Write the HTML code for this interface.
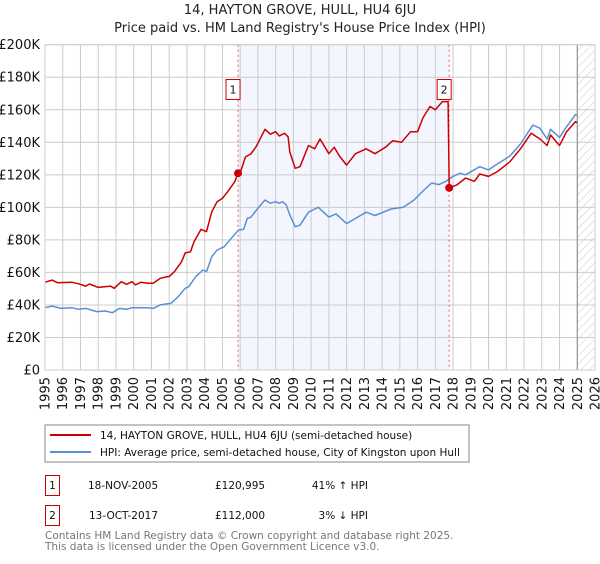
<!DOCTYPE html>
<html><head><meta charset="utf-8"><style>
body{margin:0;background:#fff;font-family:"DejaVu Sans","Liberation Sans",sans-serif;}
svg text{font-family:"DejaVu Sans","Liberation Sans",sans-serif;}
</style></head><body>
<svg id="chart" width="600" height="560" xmlns="http://www.w3.org/2000/svg">
<defs><pattern id="hatch" width="6" height="6" patternUnits="userSpaceOnUse" patternTransform="rotate(45)"><line x1="0" y1="0" x2="0" y2="6" stroke="#bbb" stroke-width="0.8"/></pattern></defs>
<text x="300" y="14" text-anchor="middle" font-size="13" fill="#222">14, HAYTON GROVE, HULL, HU4 6JU</text>
<text x="300" y="32" text-anchor="middle" font-size="13" fill="#222">Price paid vs. HM Land Registry's House Price Index (HPI)</text>
<g id="plot"></g>
<g>
<rect x="45" y="425" width="424" height="37" fill="#fff" stroke="#888"/>
<line x1="50" y1="435" x2="91" y2="435" stroke="#cc0000" stroke-width="2"/>
<text x="100" y="439" font-size="10.5" fill="#111">14, HAYTON GROVE, HULL, HU4 6JU (semi-detached house)</text>
<line x1="50" y1="452" x2="91" y2="452" stroke="#5b8fd4" stroke-width="2"/>
<text x="100" y="456" font-size="10.5" fill="#111">HPI: Average price, semi-detached house, City of Kingston upon Hull</text>
</g>
<g font-size="10.5" fill="#111">
<rect x="45.5" y="475.5" width="14" height="20" fill="#fff" stroke="#cc0000"/>
<text x="52.5" y="489" text-anchor="middle">1</text>
<text x="88" y="489">18-NOV-2005</text>
<text x="215" y="489">£120,995</text>
<text x="368" y="489" text-anchor="end">41% ↑ HPI</text>
<rect x="45.5" y="505.5" width="14" height="20" fill="#fff" stroke="#cc0000"/>
<text x="52.5" y="519" text-anchor="middle">2</text>
<text x="89" y="519">13-OCT-2017</text>
<text x="215" y="519">£112,000</text>
<text x="368" y="519" text-anchor="end">3% ↓ HPI</text>
</g>
<g font-size="10.5" fill="#777">
<text x="45" y="539">Contains HM Land Registry data © Crown copyright and database right 2025.</text>
<text x="45" y="550">This data is licensed under the Open Government Licence v3.0.</text>
</g>
</svg>
<script>
const yTicks=[0,20,40,60,80,100,120,140,160,180,200];
const yTickLabels=["£0","£20K","£40K","£60K","£80K","£100K","£120K","£140K","£160K","£180K","£200K"];
const xYears=[1995,1996,1997,1998,1999,2000,2001,2002,2003,2004,2005,2006,2007,2008,2009,2010,2011,2012,2013,2014,2015,2016,2017,2018,2019,2020,2021,2022,2023,2024,2025,2026];
const saleDates=[2005.88,2017.78];
const salePrices=[120.995,112];
const saleLabels=["1","2"];
const hpiT=[1995,1995.4,1995.9,1996.5,1996.9,1997.3,1997.9,1998.4,1998.8,1999.2,1999.6,1999.9,2000.8,2001.1,2001.5,2002.1,2002.5,2002.9,2003.1,2003.5,2003.9,2004.1,2004.4,2004.7,2005.1,2005.5,2005.9,2006.2,2006.4,2006.6,2007,2007.4,2007.7,2008,2008.2,2008.4,2008.6,2008.8,2009.1,2009.37,2009.85,2010.4,2011,2011.4,2012,2013.1,2013.6,2014.5,2015.2,2015.8,2016.3,2016.8,2017.2,2017.6,2017.99,2018.4,2018.7,2019.5,2020,2020.4,2021.2,2021.8,2022.5,2022.9,2023.3,2023.5,2024,2024.4,2024.9,2025];
const hpiV=[38.3,39.3,37.9,38.3,37.3,37.9,35.9,36.3,35.2,37.9,37.3,38.3,38.3,37.9,40,41,45,50.2,51.2,57.4,61.5,60.5,69.7,73.8,75.8,81,86,86.5,93.2,93.9,99.4,104.5,102.5,103.5,102.5,103.5,101.4,95.3,88.1,89,97,100,94,96,90,97,95,99,100,104.5,110,115,114,116,119,121,120,125,123,126,131.5,139,150.6,148.6,142,148,143,149.6,157,156.7];
const priceT=[1995,1995.4,1995.7,1996.5,1996.9,1997.3,1997.5,1998,1998.7,1998.9,1999.3,1999.6,1999.9,2000.1,2000.4,2000.8,2001.1,2001.5,2001.9,2002,2002.3,2002.7,2002.9,2003.2,2003.4,2003.8,2004.1,2004.4,2004.7,2005,2005.3,2005.7,2005.88,2006,2006.3,2006.6,2006.9,2007.4,2007.7,2008,2008.2,2008.5,2008.7,2008.8,2009.1,2009.37,2009.85,2010.2,2010.5,2011,2011.3,2011.6,2012,2012.5,2013.1,2013.6,2014.2,2014.6,2015.1,2015.6,2016,2016.3,2016.7,2017,2017.4,2017.72,2017.78,2018.2,2018.7,2019.2,2019.5,2020,2020.5,2021.2,2021.8,2022.4,2022.9,2023.3,2023.5,2024,2024.4,2024.9,2025];
const priceV=[54,55.3,53.7,54,53,51.6,52.9,50.8,51.6,50.2,54.3,52.7,54.3,52.3,53.9,53.3,53.3,56.4,57.4,57.4,60.5,66.6,72,72.7,78.9,86.5,85,97.3,103.5,105.5,109.6,115.8,120.995,121.3,131,132.8,137.3,148,145,146.5,143.9,145.5,143.4,134,124,125,138,136,142,133,137,131.5,126,133,136,133,137,141,140,146.5,146.5,155,162,160,165,165,112,113.7,118,116,120.5,119,122,128,136,145.5,142,138,144.5,138,146.5,152.7,152];
const X0=45,X1=595,Y0=370,Y1=44.7;
const xs=t=>X0+(t-1995)*(X1-X0)/31;
const ys=v=>Y0-v*(Y0-Y1)/200;
const NS="http://www.w3.org/2000/svg";
const g=document.getElementById('plot');
function mk(tag,attrs,parent){const e=document.createElementNS(NS,tag);for(const k in attrs)e.setAttribute(k,attrs[k]);(parent||g).appendChild(e);return e;}
let e;
e=mk('rect',{x:X0,y:Y1,width:X1-X0,height:Y0-Y1,fill:'#fff'});


e=mk('rect',{x:xs(saleDates[0]),y:Y1,width:xs(saleDates[1])-xs(saleDates[0]),height:Y0-Y1,fill:'#f3f6fe'});


e=mk('rect',{x:xs(2025),y:Y1,width:X1-xs(2025),height:Y0-Y1,fill:'url(#hatch)'});


yTicks.forEach((v,i)=>{
 e=mk('line',{x1:X0,x2:X1,y1:ys(v),y2:ys(v),stroke:'#ccc','stroke-width':1});
 
 
 e=mk('text',{x:40,y:ys(v)+4.5,'text-anchor':'end','font-size':13,fill:'#111'});
 e.textContent=yTickLabels[i];
 
 
});
xYears.forEach(yr=>{
 e=mk('line',{x1:xs(yr),x2:xs(yr),y1:Y1,y2:Y0,stroke:'#ccc','stroke-width':1});
 
 
 e=mk('text',{x:0,y:0,'text-anchor':'end','font-size':13,fill:'#111',transform:`translate(${xs(yr)+4.5},377) rotate(-90)`});
 e.textContent=yr;
 
 
});
e=mk('line',{x1:xs(2025),x2:xs(2025),y1:Y1,y2:Y0,stroke:'#888','stroke-width':1});


saleDates.forEach(d=>{
 e=mk('line',{x1:xs(d),x2:xs(d),y1:Y1,y2:Y0,stroke:'#e06060','stroke-width':1,'stroke-dasharray':'2,3'});
 
 
});
function path(T,V){return T.map((t,i)=>(i?'L':'M')+xs(t).toFixed(1)+','+ys(V[i]).toFixed(1)).join('');}
e=mk('path',{d:path(hpiT,hpiV),fill:'none',stroke:'#5b8fd4','stroke-width':1.5,'stroke-linejoin':'round'});


e=mk('path',{d:path(priceT,priceV),fill:'none',stroke:'#cc0000','stroke-width':1.5,'stroke-linejoin':'round'});


saleDates.forEach((d,i)=>{
 e=mk('circle',{cx:xs(d),cy:ys(salePrices[i]),r:4,fill:'#cc0000'});
 
 
 const bx=xs(d)-10;
 e=mk('rect',{x:bx-2,y:79.5,width:14,height:20,fill:'#fff',stroke:'#cc0000'});
 
 
 e=mk('text',{x:bx+5,y:93.5,'text-anchor':'middle','font-size':11,fill:'#111'});
 e.textContent=saleLabels[i];
 
 
});
e=mk('rect',{x:X0,y:Y1,width:X1-X0,height:Y0-Y1,fill:'none',stroke:'#ccc'});


</script>
</body></html>
